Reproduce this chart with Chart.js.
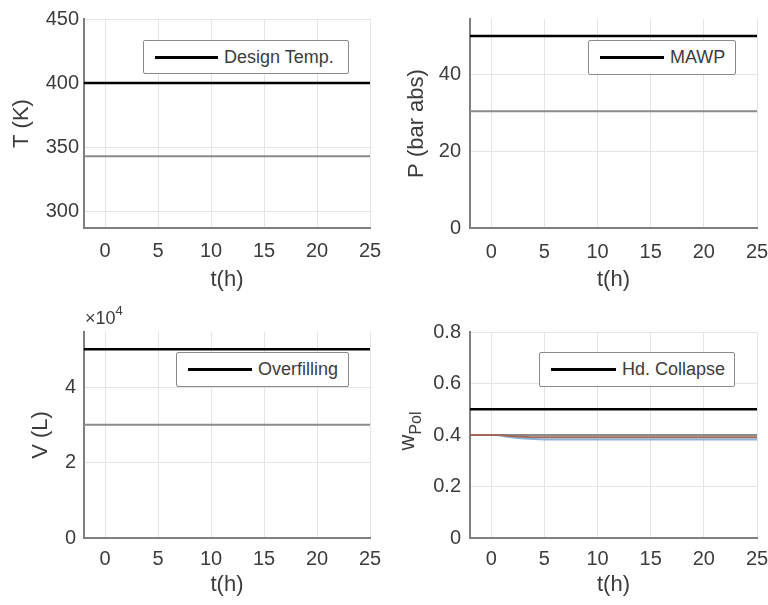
<!DOCTYPE html>
<html>
<head>
<meta charset="utf-8">
<script src="https://cdn.jsdelivr.net/npm/chart.js@4.4.1/dist/chart.umd.min.js"></script>
<style>
	body { margin: 0; background: #fff; }
	#wrap { position: relative; width: 768px; height: 605px; font-family: "Liberation Sans", Arial, sans-serif; color: #3c3c3c; }
	canvas { position: absolute; }
	.legend { position: absolute; box-sizing: border-box; border: 1.5px solid #8a8a8a; border-radius: 2px; background: #fff; font-size: 18px; display: flex; align-items: center; padding-left: 11px; }
	.legend .swatch { display: inline-block; height: 3px; background: #000; margin-right: 6px; }
	.expo { position: absolute; left: 85px; top: 305px; font-size: 18px; }
	.expo sup { font-size: 13px; position: relative; top: -2px; }
</style>
</head>
<body>
<div id="wrap">
	<canvas id="tempChart" width="384" height="300" style="left:0;top:0"></canvas>
	<canvas id="presChart" width="384" height="300" style="left:384px;top:0"></canvas>
	<canvas id="volChart" width="384" height="305" style="left:0;top:300px"></canvas>
	<canvas id="polChart" width="384" height="305" style="left:384px;top:300px"></canvas>

	<div class="legend" style="left:143px;top:40px;width:206px;height:34px"><span class="swatch" style="width:63px"></span>Design Temp.</div>
	<div class="legend" style="left:588px;top:40px;width:148px;height:35px"><span class="swatch" style="width:64px"></span>MAWP</div>
	<div class="legend" style="left:176px;top:352px;width:173px;height:35px"><span class="swatch" style="width:64px"></span>Overfilling</div>
	<div class="legend" style="left:539px;top:352px;width:196px;height:35px"><span class="swatch" style="width:65px"></span>Hd. Collapse</div>
	<div class="expo">×10<sup>4</sup></div>
</div>
<script>
const hours = [-2, 25];
const hourTicks = [0, 5, 10, 15, 20, 25];

const tempTicks = [300, 350, 400, 450];
const tempDesign = [400, 400];
const tempTank = [343, 343];

const presTicks = [0, 20, 40];
const presMawp = [50, 50];
const presTank = [30.4, 30.4];

const volTicks = [0, 20000, 40000];
const volOverfill = [50000, 50000];
const volTank = [30000, 30000];

const polTicks = [0, 0.2, 0.4, 0.6, 0.8];
const polCollapse = [0.5, 0.5];
const polStart = [0.4, 0.4];
const polHours = [-2, 0, 0.8, 1.5, 2.5, 3.5, 5, 10, 15, 20, 25];
const polBrown = [0.4, 0.4, 0.4, 0.397, 0.394, 0.392, 0.391, 0.391, 0.391, 0.391, 0.391];
const polBlue = [0.4, 0.4, 0.399, 0.393, 0.388, 0.385, 0.383, 0.383, 0.383, 0.383, 0.383];

const textColor = "#3c3c3c";
const fontFamily = '"Liberation Sans", Arial, sans-serif';
Chart.defaults.font.family = fontFamily;
Chart.defaults.color = textColor;

function pts(xs, ys) {
	return xs.map((x, i) => ({ x: x, y: ys[i] }));
}

function line(xs, ys, color, width) {
	return { data: pts(xs, ys), borderColor: color, borderWidth: width, pointRadius: 0, tension: 0 };
}

// w_Pol label has a subscript, so it is drawn by hand
const polLabel = {
	id: "polLabel",
	afterDraw(chart) {
		const ctx = chart.ctx;
		const cy = (chart.chartArea.top + chart.chartArea.bottom) / 2 - 4;
		ctx.save();
		ctx.translate(0, cy);
		ctx.rotate(-Math.PI / 2);
		ctx.fillStyle = textColor;
		ctx.textBaseline = "alphabetic";
		ctx.font = "22px " + fontFamily;
		const wW = ctx.measureText("w").width;
		ctx.font = "16px " + fontFamily;
		const pW = ctx.measureText("Pol").width;
		const u0 = -(wW + pW) / 2;
		ctx.font = "22px " + fontFamily;
		ctx.fillText("w", u0, 30);
		ctx.font = "16px " + fontFamily;
		ctx.fillText("Pol", u0 + wW, 37);
		ctx.restore();
	}
};

function makePanel(id, box, y, datasets, plugins) {
	const cv = document.getElementById(id);
	new Chart(cv, {
		type: "line",
		data: { datasets: datasets },
		plugins: plugins || [],
		options: {
			responsive: false,
			animation: false,
			layout: { padding: { left: 0, top: box.t, right: cv.width - box.r, bottom: 0 } },
			plugins: { legend: { display: false }, tooltip: { enabled: false } },
			scales: {
				x: {
					type: "linear",
					min: -2,
					max: 25,
					afterBuildTicks: s => { s.ticks = hourTicks.map(v => ({ value: v })); },
					afterFit: s => {
						s.height = cv.height - box.b;
						s.paddingLeft = 0;
						s.paddingRight = 0;
					},
					grid: { color: "#e4e4e4", drawTicks: false },
					border: { color: "#7f7f7f", width: 2 },
					ticks: { padding: box.xPad, font: { size: 20 }, color: textColor },
					title: { display: true, text: "t(h)", font: { size: 22 }, color: textColor, padding: { top: 0, bottom: box.xTitlePad } },
				},
				y: {
					type: "linear",
					min: y.min,
					max: y.max,
					afterBuildTicks: s => { s.ticks = y.ticks.map(v => ({ value: v })); },
					afterFit: s => {
						s.width = box.l;
						s.paddingTop = 0;
						s.paddingBottom = 0;
					},
					grid: { color: "#e4e4e4", drawTicks: false },
					border: { color: "#7f7f7f", width: 2 },
					ticks: { padding: box.yPad, font: { size: 20 }, color: textColor, callback: y.fmt || (v => String(v)) },
					title: { display: !!y.title, text: y.title, font: { size: 22 }, color: textColor, padding: { top: box.yTitlePad, bottom: 0 } },
				},
			},
		},
	});
}

makePanel("tempChart", { l: 84, t: 19, r: 370, b: 228, xPad: 11, xTitlePad: 7, yPad: 5, yTitlePad: 9 },
	{ min: 287, max: 450, ticks: tempTicks, title: "T (K)" },
	[line(hours, tempDesign, "#000", 2.5), line(hours, tempTank, "#8a8a8a", 2)]);

makePanel("presChart", { l: 86, t: 19, r: 373, b: 228, xPad: 12, xTitlePad: 7, yPad: 9, yTitlePad: 20 },
	{ min: 0, max: 54.4, ticks: presTicks, title: "P (bar abs)" },
	[line(hours, presMawp, "#000", 2.5), line(hours, presTank, "#8a8a8a", 2)]);

makePanel("volChart", { l: 84, t: 32, r: 370, b: 238, xPad: 9, xTitlePad: 7, yPad: 8, yTitlePad: 28 },
	{ min: 0, max: 54600, ticks: volTicks, title: "V (L)", fmt: v => String(v / 10000) },
	[line(hours, volOverfill, "#000", 2.5), line(hours, volTank, "#8a8a8a", 2)]);

makePanel("polChart", { l: 86, t: 32, r: 373, b: 238, xPad: 9, xTitlePad: 7, yPad: 9, yTitlePad: 0 },
	{ min: 0, max: 0.8, ticks: polTicks, title: "" },
	[line(hours, polCollapse, "#000", 2.5), line(polHours, polBrown, "#a0685a", 2),
	 line(polHours, polBlue, "#8ab4d8", 2), line(hours, polStart, "#8a8a8a", 2)],
	[polLabel]);
</script>
</body>
</html>
